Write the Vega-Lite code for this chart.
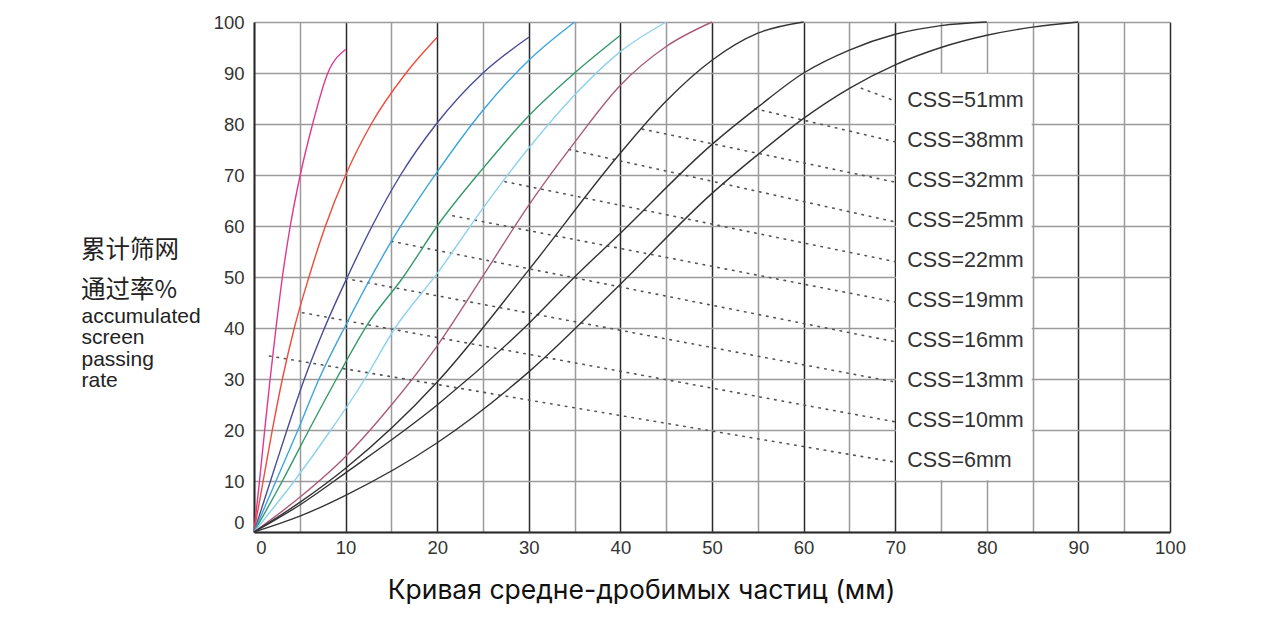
{
  "$schema": "https://vega.github.io/schema/vega-lite/v6.json",
  "autosize": "none",
  "width": 916,
  "height": 510,
  "padding": {"left": 254, "top": 22, "right": 111, "bottom": 98},
  "background": "white",
  "title": {
    "text": ["累计筛网", "通过率%"],
    "anchor": "start",
    "frame": "group",
    "orient": "top",
    "offset": 0,
    "dx": -173,
    "dy": 309,
    "font": "Noto Sans CJK SC",
    "fontSize": 24.5,
    "fontWeight": "normal",
    "color": "#222",
    "lineHeight": 40,
    "baseline": "alphabetic"
  },
  "config": {
    "view": {"stroke": null},
    "axis": {"labelFont": "Liberation Sans", "labelColor": "#333", "labelFontSize": 18.5}
  },
  "datasets": {
    "curves": [
      {"css":"6","x":0,"y":0},{"css":"6","x":0.6,"y":10},{"css":"6","x":1.17,"y":20},{"css":"6","x":1.76,"y":30},{"css":"6","x":2.4,"y":40},{"css":"6","x":3.1,"y":50},{"css":"6","x":3.96,"y":60},{"css":"6","x":5.05,"y":70},{"css":"6","x":6.4,"y":80},{"css":"6","x":8.06,"y":90},{"css":"6","x":10,"y":94.6},
      {"css":"10","x":0,"y":0},{"css":"10","x":1,"y":10},{"css":"10","x":2,"y":20},{"css":"10","x":3.1,"y":30},{"css":"10","x":4.4,"y":40},{"css":"10","x":6,"y":50},{"css":"10","x":7.8,"y":60},{"css":"10","x":10,"y":70},{"css":"10","x":12.8,"y":80},{"css":"10","x":16.6,"y":90},{"css":"10","x":20,"y":97},
      {"css":"13","x":0,"y":0},{"css":"13","x":1.8,"y":10},{"css":"13","x":3.6,"y":20},{"css":"13","x":5.5,"y":30},{"css":"13","x":7.7,"y":40},{"css":"13","x":10.2,"y":50},{"css":"13","x":12.9,"y":60},{"css":"13","x":16,"y":70},{"css":"13","x":19.9,"y":80},{"css":"13","x":25,"y":90},{"css":"13","x":30,"y":97},
      {"css":"16","x":0,"y":0},{"css":"16","x":2.4,"y":10},{"css":"16","x":4.8,"y":20},{"css":"16","x":7.1,"y":30},{"css":"16","x":10,"y":40.5},{"css":"16","x":15,"y":57},{"css":"16","x":20,"y":70.6},{"css":"16","x":25,"y":82.7},{"css":"16","x":30,"y":92.5},{"css":"16","x":35,"y":100},
      {"css":"19","x":0,"y":0},{"css":"19","x":3.1,"y":10},{"css":"19","x":6,"y":20},{"css":"19","x":9,"y":30},{"css":"19","x":12.5,"y":41},{"css":"19","x":16.3,"y":50},{"css":"19","x":20,"y":60},{"css":"19","x":25,"y":71.3},{"css":"19","x":30,"y":81.6},{"css":"19","x":35,"y":90},{"css":"19","x":40,"y":97.4},
      {"css":"22","x":0,"y":0},{"css":"22","x":4.4,"y":10},{"css":"22","x":8.4,"y":20},{"css":"22","x":12.1,"y":30},{"css":"22","x":15.4,"y":40},{"css":"22","x":20,"y":50.7},{"css":"22","x":25,"y":63.5},{"css":"22","x":30,"y":75.3},{"css":"22","x":35,"y":85.7},{"css":"22","x":40,"y":94.2},{"css":"22","x":45,"y":100},
      {"css":"25","x":0,"y":0},{"css":"25","x":5,"y":6.8},{"css":"25","x":10,"y":14.8},{"css":"25","x":15,"y":24.9},{"css":"25","x":20,"y":36.5},{"css":"25","x":25,"y":50.2},{"css":"25","x":30,"y":64.1},{"css":"25","x":35,"y":76.4},{"css":"25","x":40,"y":87.6},{"css":"25","x":45,"y":95.2},{"css":"25","x":50,"y":100},
      {"css":"32","x":0,"y":0},{"css":"32","x":5,"y":5.8},{"css":"32","x":10,"y":12.5},{"css":"32","x":20,"y":29.4},{"css":"32","x":30,"y":51.4},{"css":"32","x":40,"y":74.3},{"css":"32","x":45,"y":84.5},{"css":"32","x":50,"y":92.5},{"css":"32","x":55,"y":97.8},{"css":"32","x":60,"y":100},
      {"css":"38","x":0,"y":0},{"css":"38","x":5,"y":5.3},{"css":"38","x":10,"y":11.6},{"css":"38","x":20,"y":24.9},{"css":"38","x":30,"y":40.9},{"css":"38","x":35,"y":50},{"css":"38","x":40,"y":58.6},{"css":"38","x":50,"y":76},{"css":"38","x":55,"y":83.3},{"css":"38","x":60,"y":90},{"css":"38","x":65,"y":94.5},{"css":"38","x":70,"y":97.6},{"css":"38","x":75,"y":99.3},{"css":"38","x":80,"y":100},
      {"css":"51","x":0,"y":0},{"css":"51","x":5,"y":3.1},{"css":"51","x":10,"y":7.2},{"css":"51","x":20,"y":17.5},{"css":"51","x":30,"y":31.4},{"css":"51","x":40,"y":48.6},{"css":"51","x":50,"y":66.4},{"css":"51","x":55,"y":74},{"css":"51","x":60,"y":81.1},{"css":"51","x":65,"y":87},{"css":"51","x":70,"y":91.6},{"css":"51","x":75,"y":95},{"css":"51","x":80,"y":97.4},{"css":"51","x":85,"y":99},{"css":"51","x":90,"y":100}
    ],
    "guides": [
      {"css":"6","x":1.7,"y":34.5},{"css":"6","x":70,"y":13.7},
      {"css":"10","x":5.3,"y":43},{"css":"10","x":70,"y":21.6},
      {"css":"13","x":10,"y":49.7},{"css":"13","x":70,"y":29.4},
      {"css":"16","x":15,"y":57},{"css":"16","x":70,"y":37.3},
      {"css":"19","x":21.7,"y":62},{"css":"19","x":70,"y":45.1},
      {"css":"22","x":27.4,"y":68.7},{"css":"22","x":70,"y":53},
      {"css":"25","x":34.4,"y":75},{"css":"25","x":70,"y":60.8},
      {"css":"32","x":42.4,"y":79},{"css":"32","x":70,"y":68.6},
      {"css":"38","x":54.7,"y":83},{"css":"38","x":70,"y":76.5},
      {"css":"51","x":66.3,"y":87},{"css":"51","x":70,"y":84.5}
    ],
    "labels": [
      {"label":"CSS=51mm","y":84.6},
      {"label":"CSS=38mm","y":76.7},
      {"label":"CSS=32mm","y":68.8},
      {"label":"CSS=25mm","y":61},
      {"label":"CSS=22mm","y":53.1},
      {"label":"CSS=19mm","y":45.3},
      {"label":"CSS=16mm","y":37.5},
      {"label":"CSS=13mm","y":29.6},
      {"label":"CSS=10mm","y":21.8},
      {"label":"CSS=6mm","y":13.9}
    ]
  },
  "layer": [
    {
      "data": {"values": [{"k": 1}]},
      "mark": {"type": "rect", "fill": "white", "stroke": null},
      "encoding": {
        "x": {
          "datum": 70.1,
          "type": "quantitative",
          "scale": {"domain": [0, 100], "nice": false, "zero": false},
          "axis": {
            "values": [0,5,10,15,20,25,30,35,40,45,50,55,60,65,70,75,80,85,90,95,100],
            "labelExpr": "datum.value % 10 === 0 ? datum.label : ''",
            "labelFlush": false,
            "labelOffset": {"condition": {"test": "datum.value === 0", "value": 7}, "value": 0},
            "labelPadding": 6,
            "ticks": false,
            "grid": true,
            "gridColor": {"condition": {"test": "datum.value % 10 === 0 && datum.value !== 80 && datum.value !== 0", "value": "#2a2a2a"}, "value": "#9a9a9a"},
            "gridWidth": 1.5,
            "domainColor": "#2a2a2a",
            "domainWidth": 2,
            "title": "Кривая средне-дробимых частиц (мм)",
            "titleFont": "Inter",
            "titleFontSize": 26.5,
            "titleFontWeight": "normal",
            "titleColor": "#111",
            "titleX": 387,
            "titleY": 66,
            "titleAlign": "center",
            "titleBaseline": "alphabetic"
          }
        },
        "x2": {"datum": 84.9},
        "y": {
          "datum": 10.15,
          "type": "quantitative",
          "scale": {"domain": [0, 100], "nice": false, "zero": false},
          "axis": {
            "values": [0,10,20,30,40,50,60,70,80,90,100],
            "labelPadding": 10,
            "labelBaseline": {"condition": {"test": "datum.value === 0", "value": "bottom"}, "value": "middle"},
            "ticks": false,
            "grid": true,
            "gridColor": "#9a9a9a",
            "gridWidth": 1.5,
            "domainColor": "#2a2a2a",
            "domainWidth": 2,
            "title": ["accumulated", "screen", "passing", "rate"],
            "titleFont": "Liberation Sans",
            "titleFontSize": 21,
            "titleFontWeight": "normal",
            "titleColor": "#222",
            "titleLineHeight": 21.5,
            "titleAngle": 0,
            "titleAlign": "left",
            "titleBaseline": "alphabetic",
            "titleX": -173,
            "titleY": 300
          }
        },
        "y2": {"datum": 89.85}
      }
    },
    {
      "data": {"name": "guides"},
      "mark": {"type": "line", "stroke": "#555", "strokeWidth": 1.6, "strokeDash": [1.5, 6], "strokeCap": "round"},
      "encoding": {
        "x": {"field": "x", "type": "quantitative"},
        "y": {"field": "y", "type": "quantitative"},
        "detail": {"field": "css", "type": "nominal"}
      }
    },
    {
      "data": {"name": "curves"},
      "mark": {"type": "line", "interpolate": "monotone", "strokeWidth": 1.4},
      "encoding": {
        "x": {"field": "x", "type": "quantitative"},
        "y": {"field": "y", "type": "quantitative"},
        "color": {
          "field": "css",
          "type": "nominal",
          "scale": {
            "domain": ["6","10","13","16","19","22","25","32","38","51"],
            "range": ["#e2388c","#ee4b3b","#4b4c98","#3aa6dd","#34996b","#8dd2ee","#aa5b7c","#333333","#333333","#333333"]
          },
          "legend": null
        }
      }
    },
    {
      "data": {"name": "labels"},
      "mark": {"type": "text", "align": "left", "baseline": "middle", "dx": 12, "font": "Liberation Sans", "fontSize": 21.5, "fill": "#333"},
      "encoding": {
        "x": {"datum": 70, "type": "quantitative"},
        "y": {"field": "y", "type": "quantitative"},
        "text": {"field": "label"}
      }
    }
  ]
}
